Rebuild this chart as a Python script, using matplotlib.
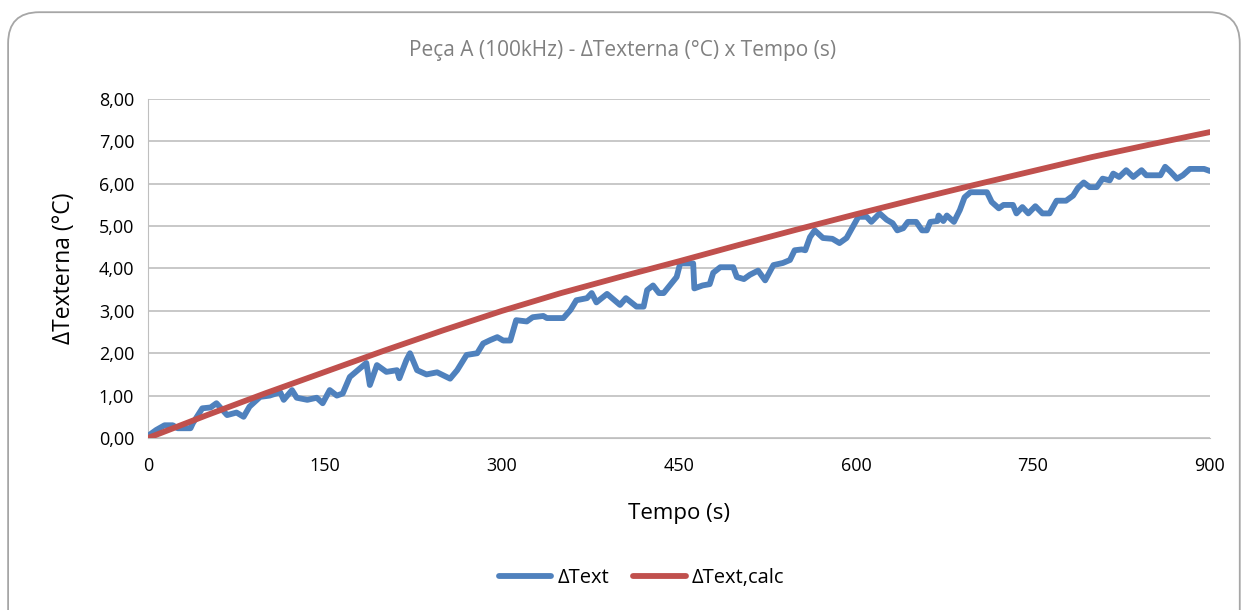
import matplotlib.pyplot as plt
from matplotlib.patches import FancyBboxPatch
from matplotlib.ticker import FuncFormatter

plt.rcParams['font.family'] = ['Open Sans', 'DejaVu Sans']

# measured delta T (blue)
t_meas = [0, 7, 14, 21, 25, 36, 38, 46, 53, 58, 67, 75, 81, 86, 95, 103, 112, 115,
          122, 126, 135, 143, 148, 154, 160, 165, 171, 180, 185, 188, 194, 202, 211,
          213, 219, 222, 228, 236, 245, 256, 262, 270, 279, 284, 290, 296, 301, 307,
          312, 321, 326, 335, 338, 352, 358, 363, 372, 376, 380, 389, 400, 405, 414,
          420, 423, 428, 433, 437, 448, 451, 459, 462, 463, 470, 476, 479, 485, 496,
          499, 505, 510, 517, 523, 530, 538, 544, 548, 554, 557, 561, 565, 572, 580,
          586, 592, 598, 602, 609, 613, 620, 626, 631, 635, 640, 644, 651, 656, 660,
          663, 669, 670, 674, 677, 683, 688, 692, 697, 711, 715, 721, 725, 733, 736,
          741, 746, 752, 758, 764, 770, 778, 784, 788, 793, 798, 804, 809, 815, 818,
          823, 829, 835, 842, 846, 858, 862, 866, 872, 877, 883, 888, 895, 900]
dt_meas = [0.05, 0.19, 0.3, 0.3, 0.23, 0.23, 0.35, 0.7, 0.72, 0.82, 0.54, 0.6, 0.5,
           0.74, 0.97, 1.0, 1.08, 0.9, 1.13, 0.95, 0.9, 0.95, 0.82, 1.13, 1.0, 1.05,
           1.44, 1.65, 1.77, 1.25, 1.72, 1.56, 1.6, 1.41, 1.84, 2.0, 1.6, 1.5, 1.55,
           1.4, 1.6, 1.96, 2.0, 2.23, 2.31, 2.38, 2.3, 2.3, 2.78, 2.75, 2.85, 2.88,
           2.83, 2.83, 3.02, 3.25, 3.3, 3.42, 3.2, 3.4, 3.14, 3.3, 3.1, 3.1, 3.49,
           3.6, 3.42, 3.42, 3.8, 4.12, 4.12, 4.12, 3.53, 3.6, 3.63, 3.9, 4.03, 4.03,
           3.8, 3.75, 3.85, 3.95, 3.72, 4.08, 4.13, 4.2, 4.43, 4.45, 4.43, 4.74, 4.9,
           4.72, 4.7, 4.6, 4.72, 5.02, 5.22, 5.22, 5.1, 5.3, 5.15, 5.07, 4.9, 4.95,
           5.1, 5.1, 4.9, 4.9, 5.1, 5.12, 5.25, 5.12, 5.25, 5.1, 5.38, 5.68, 5.8, 5.8,
           5.57, 5.42, 5.5, 5.5, 5.3, 5.45, 5.3, 5.47, 5.3, 5.3, 5.6, 5.6, 5.72, 5.9,
           6.03, 5.92, 5.92, 6.12, 6.08, 6.24, 6.16, 6.32, 6.16, 6.32, 6.2, 6.2, 6.4,
           6.3, 6.12, 6.2, 6.35, 6.35, 6.35, 6.3]

# calculated delta T (red)
t_calc = [0, 50, 100, 150, 200, 250, 300, 350, 400, 450, 500, 550, 600, 650, 700,
          750, 800, 850, 900]
dt_calc = [0.0, 0.54, 1.06, 1.56, 2.06, 2.54, 3.0, 3.42, 3.8, 4.17, 4.55, 4.92,
           5.28, 5.63, 5.97, 6.3, 6.63, 6.93, 7.22]

fig = plt.figure(figsize=(12.46, 6.10), dpi=100)
# chart border, bottom edge runs off the image like in the original
fig.patches.append(FancyBboxPatch((0.0065, -0.1), 0.9885, 1.08,
                                  boxstyle='round,pad=0,rounding_size=0.025',
                                  transform=fig.transFigure, facecolor='white',
                                  edgecolor='#a6a6a6', linewidth=1.3,
                                  mutation_aspect=2.04, zorder=-1))
ax = fig.add_axes([0.1188, 0.282, 0.8523, 0.5557])
ax.set_facecolor('none')

ax.plot(t_meas, dt_meas, color='#4f81bd', lw=4.2, solid_capstyle='round',
        solid_joinstyle='round', label='ΔText', zorder=3)
ax.plot(t_calc, dt_calc, color='#c0504d', lw=4.2, solid_capstyle='round',
        label='ΔText,calc', zorder=4)

ax.set_xlim(0, 900)
ax.set_ylim(0, 8)
ax.set_xticks(range(0, 901, 150))
ax.set_yticks(range(0, 9))
ax.yaxis.set_major_formatter(FuncFormatter(lambda v, p: f'{v:.2f}'.replace('.', ',')))
ax.grid(axis='y', color='#bfbfbf', lw=1.2)
ax.set_axisbelow(True)
for s in ['top', 'right']:
    ax.spines[s].set_visible(False)
ax.spines['left'].set_color('#bfbfbf')
ax.spines['bottom'].set_color('#bfbfbf')
ax.tick_params(length=0, labelsize=13, colors='black', pad=10)
ax.tick_params(axis='x', pad=14)

ax.set_xlabel('Tempo (s)', fontsize=16, labelpad=20)
ax.set_ylabel('ΔTexterna (°C)', fontsize=16.5, labelpad=16)
fig.text(0.5, 0.918, 'Peça A (100kHz) - ΔTexterna (°C) x Tempo (s)', ha='center',
         va='center', fontsize=15, color='#808080')

fig.legend(loc='center', bbox_to_anchor=(0.515, 0.052), ncol=2, frameon=False,
           fontsize=14.5, handlelength=2.6, columnspacing=1.2, handletextpad=0.3)

fig.savefig('out.png', dpi=100)
